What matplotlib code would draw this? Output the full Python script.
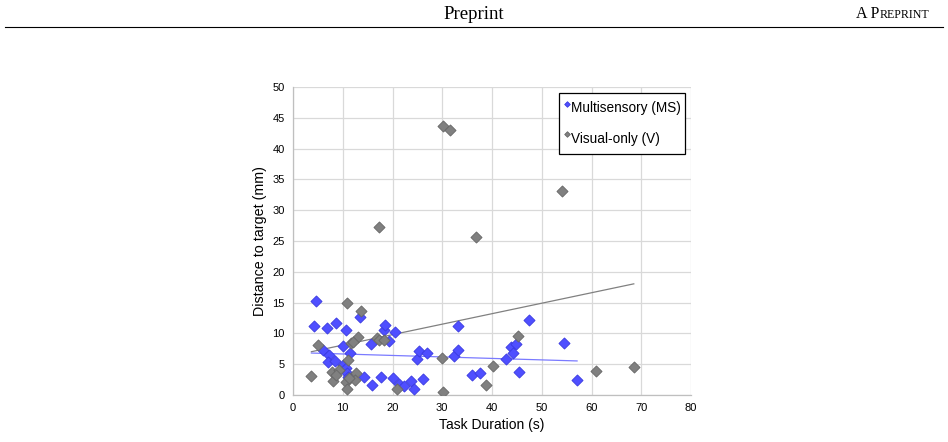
import matplotlib
matplotlib.use("Agg")
import matplotlib.pyplot as plt
import numpy as np

# ---------------- data ----------------
ms_x = [4.6, 4.2, 6.8, 8.6, 10.6, 10.1, 6.0, 7.2, 7.1, 8.4, 11.5, 10.1, 10.6, 10.9, 11.1,
        13.5, 14.3, 15.6, 15.8, 17.6, 18.2, 18.5, 19.3, 20.6, 20.2, 21.4, 22.4, 23.7, 24.3,
        24.9, 25.3, 26.1, 26.9, 32.3, 33.2, 33.2, 35.9, 37.6, 47.4, 43.8, 44.8, 44.3, 42.8,
        45.4, 54.4, 57.1]
ms_y = [15.3, 11.2, 10.8, 11.7, 10.5, 8.0, 7.3, 6.5, 5.3, 5.5, 6.8, 4.9, 4.4, 3.6, 2.9,
        12.7, 3.0, 8.2, 1.7, 3.0, 10.5, 11.4, 8.7, 10.2, 2.7, 1.8, 1.5, 2.2, 1.0,
        5.9, 7.2, 2.6, 6.8, 6.4, 7.3, 11.2, 3.2, 3.5, 12.1, 7.8, 8.2, 6.8, 5.8,
        3.7, 8.4, 2.4]

v_x = [3.7, 5.0, 10.9, 13.7, 13.1, 11.6, 12.1, 16.8, 17.3, 18.2, 11.1, 7.8, 8.1, 9.2, 10.6,
       12.7, 12.5, 11.2, 10.8, 20.9, 30.0, 30.2, 38.8, 36.8, 17.2, 30.1, 31.5, 54.0, 45.2,
       40.3, 61.0, 68.5, 8.6]
v_y = [3.1, 8.1, 15.0, 13.7, 9.4, 8.4, 8.6, 9.2, 9.0, 9.0, 5.7, 3.8, 2.2, 4.1, 2.1,
       3.6, 2.5, 2.7, 1.0, 1.0, 6.0, 0.5, 1.6, 25.6, 27.3, 43.7, 43.1, 33.1, 9.6,
       4.7, 3.9, 4.5, 3.2]

# linear trend lines: (slope, intercept, x start, x end)
ms_trend = (-0.024, 6.9, 3.7, 57.1)
v_trend = (0.17, 6.4, 3.7, 68.5)

series_names = ["Multisensory (MS)", "Visual-only (V)"]
x_label = "Task Duration (s)"
y_label = "Distance to target (mm)"
x_ticks = [0, 10, 20, 30, 40, 50, 60, 70, 80]
y_ticks = [0, 5, 10, 15, 20, 25, 30, 35, 40, 45, 50]

# ---------------- figure ----------------
W, H = 948, 442
fig = plt.figure(figsize=(W / 100, H / 100), dpi=100)
plt.rcParams['font.family'] = ['Liberation Sans', 'DejaVu Sans']

# page header
fig.text(474 / W, 1 - 19 / H, "Preprint", ha="center", va="baseline",
         family="Liberation Serif", fontsize=13.5)
fig.add_artist(plt.Line2D([5 / W, 943 / W], [1 - 27 / H, 1 - 27 / H],
                          color="black", lw=0.8, transform=fig.transFigure))
t2 = fig.text(929 / W, 1 - 18 / H, "REPRINT", ha="right", va="baseline",
              family="Liberation Serif", fontsize=8.6)
renderer = fig.canvas.get_renderer()
bb = t2.get_window_extent(renderer)
fig.text(bb.x0 / W, 1 - 18 / H, "A P", ha="right", va="baseline",
         family="Liberation Serif", fontsize=11.5)

ax = fig.add_axes([293 / W, 1 - 395 / H, (691 - 293) / W, (395 - 87) / H])

blue = "#4f4fff"
blue_edge = "#3a3ae0"
gray = "#808080"
gray_edge = "#666666"

ax.scatter(ms_x, ms_y, marker="D", s=32, color=blue, edgecolors=blue_edge,
           linewidths=0.6, zorder=3, label=series_names[0])
ax.scatter(v_x, v_y, marker="D", s=32, color=gray, edgecolors=gray_edge,
           linewidths=0.6, zorder=4, label=series_names[1])

xs = np.array([ms_trend[2], ms_trend[3]])
ax.plot(xs, ms_trend[0] * xs + ms_trend[1], color="#7a7aff", lw=0.9, zorder=2)
xs = np.array([v_trend[2], v_trend[3]])
ax.plot(xs, v_trend[0] * xs + v_trend[1], color="#808080", lw=0.9, zorder=2)

ax.set_xlim(0, 80)
ax.set_ylim(0, 50)
ax.set_xticks(x_ticks)
ax.set_yticks(y_ticks)
ax.grid(True, color="#d9d9d9", lw=0.9, zorder=0)
ax.set_axisbelow(True)
for s in ["top", "right"]:
    ax.spines[s].set_visible(False)
for s in ["left", "bottom"]:
    ax.spines[s].set_color("#bfbfbf")
    ax.spines[s].set_linewidth(0.9)
ax.tick_params(length=0, labelsize=8, colors="black", pad=6)
ax.set_xlabel(x_label, fontsize=10, labelpad=3)
ax.set_ylabel(y_label, fontsize=10.3, labelpad=4)

leg = ax.legend(loc="upper right", bbox_to_anchor=(0.985, 0.981), fontsize=9.8,
                frameon=True, fancybox=False, edgecolor="black", framealpha=1,
                handletextpad=0.0, handlelength=0.6, handleheight=2.2,
                labelspacing=0.55, borderpad=0.28, markerscale=0.5,
                borderaxespad=0)
leg.get_frame().set_linewidth(0.9)

fig.savefig("out.png", dpi=100)
